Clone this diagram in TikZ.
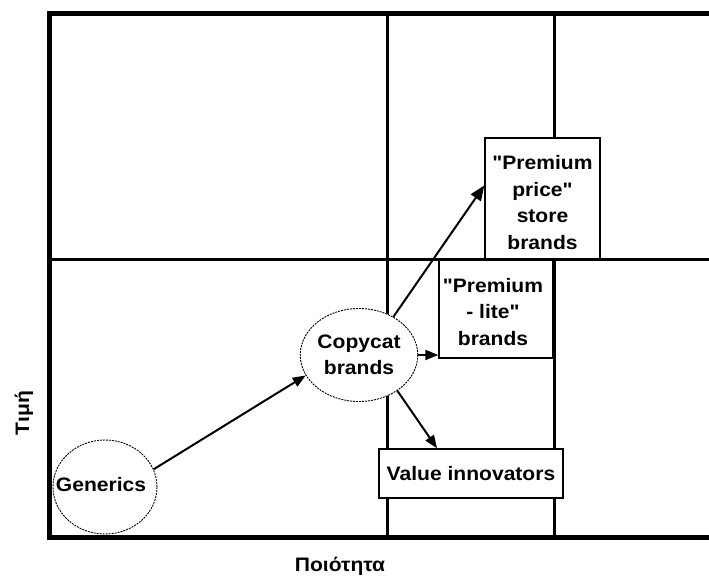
\documentclass[tikz,border=0pt]{standalone}
\usepackage{fontspec}
\newfontfamily\lbl{Liberation Sans}[FakeStretch=1.08]
\usetikzlibrary{shapes.geometric,arrows.meta,calc}
\begin{document}
\begin{tikzpicture}[x=1pt,y=1pt,
  every node/.style={font=\lbl\fontsize{19.5}{26.5}\selectfont\bfseries},
  boxn/.style={draw,line width=1.4pt,fill=white,inner sep=0pt,align=center},
  blob/.style={ellipse,draw,line width=0.9pt,dash pattern=on 2pt off 1pt,fill=white,inner sep=0pt,align=center},
  grid/.style={line width=3pt},
  frame/.style={line width=5pt},
  arr/.style={line width=2pt,-{Triangle[length=13pt,width=10pt]}}
]
\useasboundingbox (0,0) rectangle (709,576);
% grid
\draw[grid] (387.5,39) -- (387.5,562);
\draw[grid] (554,39) -- (554,562);
\draw[grid] (49,316.5) -- (720,316.5);
\draw[frame] (760,39) -- (49,39) -- (49,562) -- (760,562);
% boxes
\node[boxn,minimum width=115pt,minimum height=121pt] (pp) at (542.5,377.5) {};
\node at (542.5,373.5) [align=center] {"Premium\\price"\\store\\brands};
\node[boxn,minimum width=114pt,minimum height=98pt] (lite) at (496,267) {};
\node at (493,264) [align=center] {"Premium\\- lite"\\brands};
\node[boxn,minimum width=184pt,minimum height=49pt] (val) at (471,102.5) {Value innovators};
% ellipses
\node[blob,minimum width=100pt,minimum height=93pt] (copy) at (359,221) {Copycat\\brands};
\node[blob,minimum width=104pt,minimum height=94pt] (gen) at (105,89) {};
\node at (101,91.5) {Generics};
% arrows
\draw[arr] (gen.20) -- (copy.201);
\draw[arr,-{Triangle[length=15pt,width=12pt]}] (copy.48) -- ([yshift=13pt]pp.west);
\draw[arr] (copy.east) -- (copy.east -| lite.west);
\draw[arr] (copy.-43) -- ([xshift=-34pt]val.north);
% axis labels
\node[rotate=90] (tim) at (24,163) {Τιμή};
\node (poi) at (340,10) {Ποιότητα};
\end{tikzpicture}
\end{document}
